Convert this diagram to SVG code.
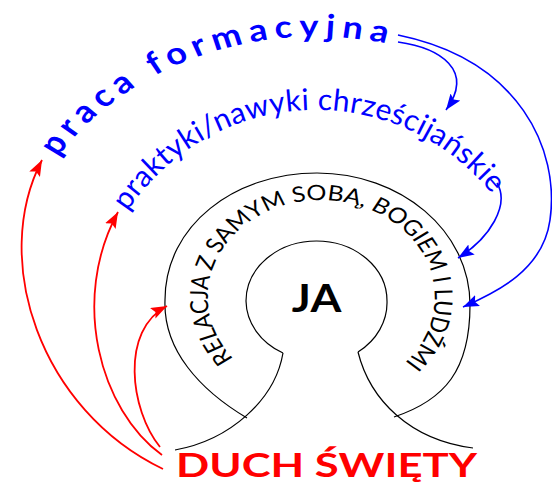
<svg xmlns="http://www.w3.org/2000/svg" xmlns:xlink="http://www.w3.org/1999/xlink" width="552" height="483" viewBox="0 0 552 483">
  <style>
    .outline { fill: none; stroke: #000; stroke-width: 1.2; }
    .red { fill: none; stroke: #ff0000; stroke-width: 1.8; }
    .blue { fill: none; stroke: #0000ff; stroke-width: 1.6; }
    .label { font-family: Lato, "Liberation Sans", sans-serif; }
    .blueText { fill: #0000ff; }
    .ring { fill: #000; font-size: 21.3px; }
  </style>
  <defs>
    <marker id="arrowRed" markerUnits="userSpaceOnUse" markerWidth="18" markerHeight="14" refX="16" refY="6" orient="auto">
      <path d="M0,0 L16,6 L0,12 L3,6 z" fill="#ff0000"/>
    </marker>
    <marker id="arrowBlue" markerUnits="userSpaceOnUse" markerWidth="18" markerHeight="14" refX="16" refY="6" orient="auto">
      <path d="M0,0 L16,6 L0,12 L3,6 z" fill="#0000ff"/>
    </marker>
    <!-- baseline guides for curved labels -->
    <path id="arcOuter" d="M78.5,187.8 A262,262 0 0 1 426.7,61.05"/>
    <path id="arcMiddle" d="M103.6,258.7 A226,226 0 0 1 528.4,258.7"/>
    <path id="arcRing" d="M287.3,388.2 A97,97 0 1 1 353.7,388.2"/>
  </defs>

  <!-- self: head and ring outlines -->
  <g id="node-ja">
    <path class="outline" d="M283,353 A70.5,60 0 0 1 246,301 A70.5,60 0 0 1 387,301 A70.5,61 0 0 1 358,352"/>
    <path class="outline" d="M283,353 C275,400 230,440 175,450"/>
    <path class="outline" d="M358,352 C370,400 410,440 473,448"/>
    <g transform="matrix(1.17 0 0 1 -53.72 0)">
      <text class="label" x="316.5" y="312" text-anchor="middle" font-weight="bold" font-size="38" fill="#000">JA</text>
    </g>
  </g>

  <g id="node-relacja">
    <path class="outline" d="M247,418 C200,390 163,350 165,300 C165,225 235,173 317,173 C400,173 470,230 470,305 C470,370 445,400 394,417"/>
    <g transform="matrix(1.17 0 0 1 -53.72 0)">
      <text class="label ring"><textPath xlink:href="#arcRing" startOffset="51.6">RELACJA Z SAMYM SOBĄ, BOGIEM I LUDŹMI</textPath></text>
    </g>
  </g>

  <g id="node-praktyki">
    <text class="label blueText" font-size="30" letter-spacing="0.3"><textPath xlink:href="#arcMiddle" startOffset="53">praktyki/nawyki chrześcijańskie</textPath></text>
  </g>

  <g id="node-praca">
    <g transform="matrix(1.17 0 0 1 -53.72 0)">
      <text class="label blueText" font-size="31" font-weight="bold" letter-spacing="5.7"><textPath xlink:href="#arcOuter" startOffset="35">praca formacyjna</textPath></text>
    </g>
  </g>

  <g id="node-duch">
    <text class="label" x="176" y="477" textLength="301" lengthAdjust="spacingAndGlyphs" font-weight="bold" font-size="33" fill="#ff0000">DUCH ŚWIĘTY</text>
  </g>

  <g id="connectors">
    <path class="red" d="M163,469 C40,410 -10,260 42,160" marker-end="url(#arrowRed)"/>
    <path class="red" d="M162,455 C100,410 70,300 118,212" marker-end="url(#arrowRed)"/>
    <path class="red" d="M160,447 C130,410 120,330 167,306" marker-end="url(#arrowRed)"/>
    <path class="blue" d="M398,35 C520,60 560,150 550,220 C543,270 497,292 463,307" marker-end="url(#arrowBlue)"/>
    <path class="blue" d="M398,42 C440,48 475,70 446,110" marker-end="url(#arrowBlue)"/>
    <path class="blue" d="M497,183 C510,205 490,238 458,258" marker-end="url(#arrowBlue)"/>
  </g>
</svg>
